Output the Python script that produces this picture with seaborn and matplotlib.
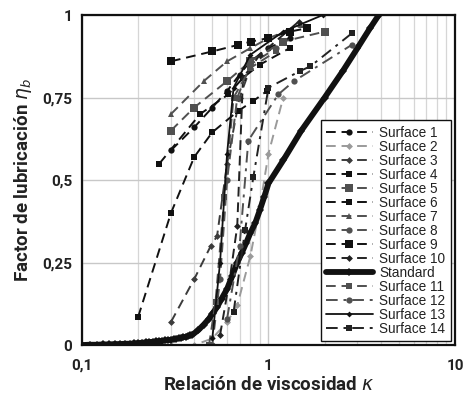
import matplotlib
matplotlib.use("Agg")
import matplotlib.pyplot as plt
import seaborn as sns
import numpy as np
from matplotlib.ticker import FixedLocator, LogLocator, NullFormatter

sns.set_theme(style="white")
plt.rcParams["font.family"] = ["Roboto", "DejaVu Sans"]

# Lubrication factor eta_b versus viscosity ratio kappa, per surface
s1_k = [0.30, 0.40, 0.50, 0.60, 0.70, 0.80, 1.00, 1.30]
s1_e = [0.59, 0.66, 0.72, 0.77, 0.82, 0.86, 0.90, 0.93]

s2_k = [0.30, 0.40, 0.50, 0.60, 0.68, 0.80, 0.90, 1.00, 1.20]
s2_e = [0.00, 0.00, 0.02, 0.07, 0.12, 0.27, 0.42, 0.58, 0.75]

s3_k = [0.30, 0.40, 0.49, 0.53, 0.60, 0.70, 0.80]
s3_e = [0.07, 0.20, 0.30, 0.33, 0.55, 0.75, 0.84]

s4_k = [0.20, 0.30, 0.40, 0.50, 0.69, 0.83, 0.98]
s4_e = [0.085, 0.40, 0.57, 0.645, 0.71, 0.74, 0.77]

s5_k = [0.30, 0.40, 0.60, 0.80, 1.20, 2.00]
s5_e = [0.65, 0.72, 0.80, 0.86, 0.92, 0.95]

s6_k = [0.26, 0.43, 0.61, 0.73, 0.90, 1.30]
s6_e = [0.55, 0.70, 0.76, 0.81, 0.85, 0.90]

s7_k = [0.30, 0.45, 0.60, 0.80, 1.00, 1.50]
s7_e = [0.70, 0.80, 0.86, 0.90, 0.93, 0.97]

s8_k = [0.50, 0.55, 0.60, 0.68, 0.80, 1.10]
s8_e = [0.00, 0.20, 0.50, 0.75, 0.85, 0.90]

s9_k = [0.30, 0.50, 0.69, 0.81, 0.99, 1.30, 1.60]
s9_e = [0.86, 0.89, 0.91, 0.92, 0.93, 0.95, 0.96]

s10_k = [0.55, 0.62, 0.68, 0.73, 0.90, 1.45]
s10_e = [0.03, 0.20, 0.36, 0.81, 0.88, 0.98]

std_k = [0.10, 0.11, 0.12, 0.13, 0.14, 0.15, 0.16, 0.17, 0.18, 0.19,
         0.20, 0.21, 0.22, 0.23, 0.24, 0.25, 0.26, 0.27, 0.28, 0.29,
         0.30, 0.31, 0.32, 0.33, 0.34, 0.35, 0.36, 0.37, 0.38, 0.39,
         0.42, 0.45, 0.48, 0.50, 0.53, 0.56, 0.60, 0.64, 0.68, 0.72,
         0.76, 0.80, 0.85, 0.90, 0.95, 1.00, 1.20, 1.50, 2.00, 2.50,
         3.00, 3.50, 3.90]
std_e = [0.000, 0.001, 0.001, 0.002, 0.002, 0.003, 0.003, 0.004, 0.004, 0.005,
         0.006, 0.007, 0.008, 0.009, 0.010, 0.011, 0.012, 0.013, 0.014, 0.015,
         0.016, 0.018, 0.019, 0.021, 0.022, 0.024, 0.025, 0.027, 0.029, 0.031,
         0.045, 0.062, 0.080, 0.095, 0.115, 0.140, 0.170, 0.210, 0.250, 0.280,
         0.310, 0.340, 0.370, 0.410, 0.450, 0.490, 0.560, 0.650, 0.750, 0.830,
         0.900, 0.960, 1.000]

s11_k = [0.48, 0.52, 0.58, 0.65, 0.80, 1.10]
s11_e = [0.00, 0.13, 0.45, 0.75, 0.84, 0.89]

s12_k = [0.60, 0.70, 0.78, 1.13, 1.37, 2.80]
s12_e = [0.08, 0.30, 0.62, 0.76, 0.80, 0.91]

s13_k = [0.50, 0.55, 0.60, 0.65, 0.80, 1.20, 1.95]
s13_e = [0.02, 0.25, 0.58, 0.78, 0.88, 0.95, 1.00]

s14_k = [0.65, 0.75, 0.83, 1.00, 1.47, 1.68, 2.80]
s14_e = [0.10, 0.35, 0.51, 0.78, 0.83, 0.845, 0.945]

labels = ["Surface 1", "Surface 2", "Surface 3", "Surface 4", "Surface 5",
          "Surface 6", "Surface 7", "Surface 8", "Surface 9", "Surface 10",
          "Standard", "Surface 11", "Surface 12", "Surface 13", "Surface 14"]
x_series = [s1_k, s2_k, s3_k, s4_k, s5_k, s6_k, s7_k, s8_k, s9_k, s10_k,
            std_k, s11_k, s12_k, s13_k, s14_k]
y_series = [s1_e, s2_e, s3_e, s4_e, s5_e, s6_e, s7_e, s8_e, s9_e, s10_e,
            std_e, s11_e, s12_e, s13_e, s14_e]

dash = (0, (5, 3))
dashdot = (0, (6, 3, 1.5, 3))
# colour, marker, marker size, line style, line width
styles = [
    ("#111111", "o", 4.5, dash, 1.4),
    ("#9a9a9a", "D", 3.5, dash, 1.4),
    ("#3c3c3c", "D", 3.5, dash, 1.4),
    ("#111111", "s", 4.5, dash, 1.4),
    ("#505050", "s", 5.5, dash, 1.4),
    ("#111111", "s", 4.5, dash, 1.4),
    ("#505050", "^", 4.5, dash, 1.4),
    ("#505050", "o", 4.5, dash, 1.4),
    ("#111111", "s", 6.0, dash, 1.4),
    ("#222222", "D", 3.5, dash, 1.4),
    ("#111111", "D", 4.2, "-", 4.2),
    ("#505050", "s", 4.5, dash, 1.4),
    ("#505050", "o", 4.5, dashdot, 1.4),
    ("#111111", "D", 3.0, "-", 1.3),
    ("#222222", "s", 4.5, dashdot, 1.4),
]

fig = plt.figure(figsize=(4.71, 3.98), dpi=100)
ax = fig.add_axes([0.174, 0.133, 0.792, 0.829])

for lab, xs, ys, (c, m, ms, ls, lw) in zip(labels, x_series, y_series, styles):
    sns.lineplot(x=xs, y=ys, ax=ax, color=c, marker=m, markersize=ms,
                 markeredgewidth=0, linestyle=ls, linewidth=lw, label=lab,
                 estimator=None, sort=False)

ax.set_xscale("log")
ax.set_xlim(0.1, 10)
ax.set_ylim(0, 1)
ax.xaxis.set_major_locator(FixedLocator([0.1, 1, 10]))
ax.set_xticklabels(["0,1", "1", "10"])
ax.xaxis.set_minor_locator(LogLocator(base=10, subs=np.arange(2, 10)))
ax.xaxis.set_minor_formatter(NullFormatter())
ax.set_yticks([0, 0.25, 0.5, 0.75, 1])
ax.set_yticklabels(["0", "0,25", "0,5", "0,75", "1"])

ax.grid(True, which="major", color="#c8c8c8", linewidth=1.0)
ax.grid(True, which="minor", axis="x", color="#d6d6d6", linewidth=0.9)
ax.set_axisbelow(True)

for sp in ax.spines.values():
    sp.set_color("#111111")
    sp.set_linewidth(1.6)

ax.tick_params(axis="both", which="major", labelsize=11, length=3,
               color="#888888", pad=4)
ax.tick_params(axis="x", which="major", pad=7)
for t in ax.get_xticklabels() + ax.get_yticklabels():
    t.set_fontweight("bold")
    t.set_color("#222222")

ax.set_xlabel(r"Relación de viscosidad $\kappa$", fontsize=13.5,
              fontweight="bold", color="#222222", labelpad=2)
ax.set_ylabel(r"Factor de lubricación $\eta_b$", fontsize=13.5,
              fontweight="bold", color="#222222", labelpad=6)

leg = ax.legend(loc="lower right", frameon=True, fancybox=False,
                edgecolor="#111111", framealpha=1, borderaxespad=0.3,
                handlelength=3.4, handletextpad=0.5, labelspacing=0.0,
                borderpad=0.4,
                prop={"family": ["Liberation Sans", "DejaVu Sans"], "size": 9.8})
leg.get_frame().set_linewidth(1.0)
for t in leg.get_texts():
    t.set_color("#222222")

fig.savefig("out.png", dpi=100)
